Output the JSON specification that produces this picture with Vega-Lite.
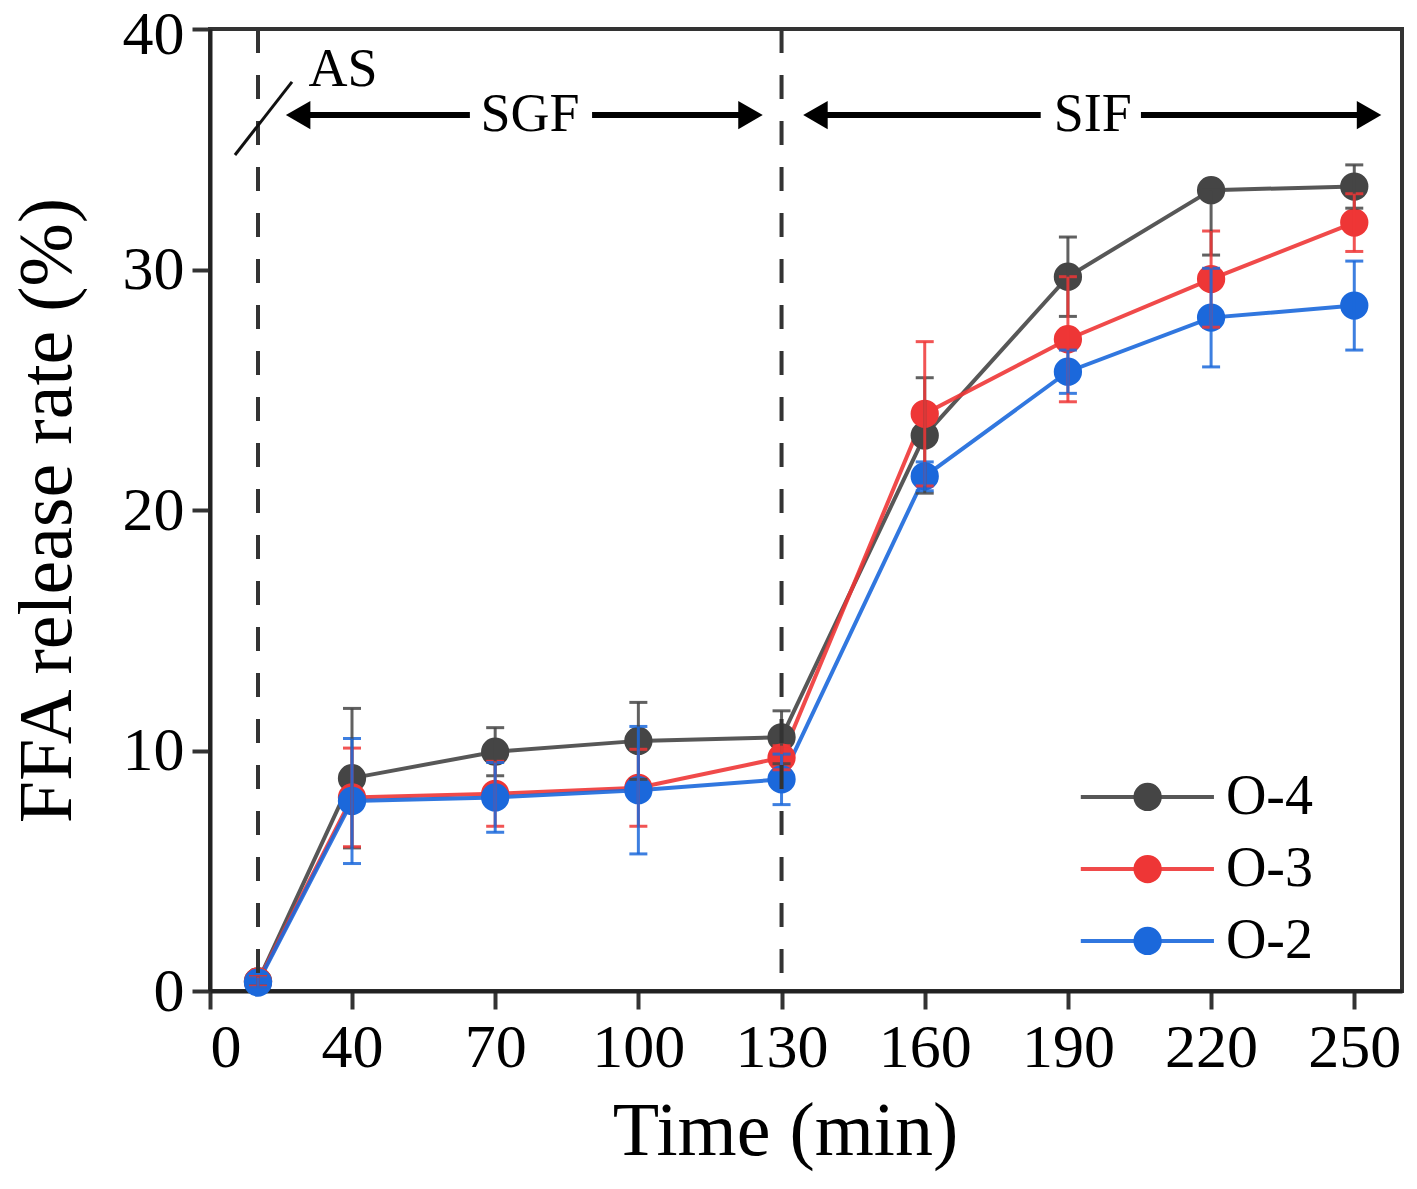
{
  "$schema": "https://vega.github.io/schema/vega-lite/v6.json",
  "width": 1192,
  "height": 962,
  "autosize": "none",
  "padding": {"left": 210, "top": 29, "right": 15, "bottom": 198},
  "background": "white",
  "config": {
    "font": "Liberation Serif",
    "view": {"stroke": "#333333", "strokeWidth": 4},
    "axis": {
      "grid": false,
      "domainColor": "#222222",
      "domainWidth": 4,
      "tickColor": "#333333",
      "tickWidth": 4,
      "tickSize": 18,
      "labelColor": "black",
      "labelFont": "Liberation Serif",
      "labelFontSize": 62,
      "labelPadding": 8,
      "titleFont": "Liberation Serif",
      "titleFontWeight": "normal",
      "titleColor": "black"
    }
  },
  "datasets": {
    "ffa": [
      {"series": "O-4", "time": 10, "mean": 0.4, "lo": 0.2, "hi": 0.6},
      {"series": "O-4", "time": 40, "mean": 8.85, "lo": 5.95, "hi": 11.75},
      {"series": "O-4", "time": 70, "mean": 9.95, "lo": 8.95, "hi": 10.95},
      {"series": "O-4", "time": 100, "mean": 10.4, "lo": 8.8, "hi": 12.0},
      {"series": "O-4", "time": 130, "mean": 10.55, "lo": 9.45, "hi": 11.65},
      {"series": "O-4", "time": 160, "mean": 23.1, "lo": 20.7, "hi": 25.5},
      {"series": "O-4", "time": 190, "mean": 29.7, "lo": 28.05, "hi": 31.35},
      {"series": "O-4", "time": 220, "mean": 33.3, "lo": 30.6, "hi": 33.3},
      {"series": "O-4", "time": 250, "mean": 33.45, "lo": 32.55, "hi": 34.35},
      {"series": "O-3", "time": 10, "mean": 0.4, "lo": 0.2, "hi": 0.6},
      {"series": "O-3", "time": 40, "mean": 8.05, "lo": 6.0, "hi": 10.1},
      {"series": "O-3", "time": 70, "mean": 8.2, "lo": 6.85, "hi": 9.55},
      {"series": "O-3", "time": 100, "mean": 8.45, "lo": 6.85, "hi": 10.05},
      {"series": "O-3", "time": 130, "mean": 9.7, "lo": 9.2, "hi": 10.2},
      {"series": "O-3", "time": 160, "mean": 24.0, "lo": 21.0, "hi": 27.0},
      {"series": "O-3", "time": 190, "mean": 27.1, "lo": 24.5, "hi": 29.7},
      {"series": "O-3", "time": 220, "mean": 29.6, "lo": 27.6, "hi": 31.6},
      {"series": "O-3", "time": 250, "mean": 31.95, "lo": 30.75, "hi": 33.15},
      {"series": "O-2", "time": 10, "mean": 0.35, "lo": 0.15, "hi": 0.55},
      {"series": "O-2", "time": 40, "mean": 7.9, "lo": 5.3, "hi": 10.5},
      {"series": "O-2", "time": 70, "mean": 8.05, "lo": 6.6, "hi": 9.5},
      {"series": "O-2", "time": 100, "mean": 8.35, "lo": 5.7, "hi": 11.0},
      {"series": "O-2", "time": 130, "mean": 8.8, "lo": 7.75, "hi": 9.85},
      {"series": "O-2", "time": 160, "mean": 21.4, "lo": 20.8, "hi": 22.0},
      {"series": "O-2", "time": 190, "mean": 25.75, "lo": 24.85, "hi": 26.65},
      {"series": "O-2", "time": 220, "mean": 28.0, "lo": 25.95, "hi": 30.05},
      {"series": "O-2", "time": 250, "mean": 28.5, "lo": 26.65, "hi": 30.35}
    ],
    "phases": [{"t": 10}, {"t": 130}],
    "arrows": [
      {"x": 22.8, "x2": 64.7, "y": 36.42},
      {"x": 90.3, "x2": 123.5, "y": 36.42},
      {"x": 137.1, "x2": 184.3, "y": 36.42},
      {"x": 205.3, "x2": 253.1, "y": 36.42}
    ],
    "heads": [
      {"x": 22.8, "y": 36.42, "shape": "triangle-left"},
      {"x": 123.5, "y": 36.42, "shape": "triangle-right"},
      {"x": 137.1, "y": 36.42, "shape": "triangle-left"},
      {"x": 253.1, "y": 36.42, "shape": "triangle-right"}
    ],
    "slash": [{"x": 5.2, "y": 34.76, "x2": 20.85, "y2": 37.8}],
    "labels": [
      {"x": 37.1, "y": 38.3, "text": "AS"},
      {"x": 77.3, "y": 36.42, "text": "SGF"},
      {"x": 195.2, "y": 36.42, "text": "SIF"}
    ],
    "legend": [
      {"series": "O-4", "x1": 192.7, "x2": 220.6, "xm": 206.7, "xt": 223.1, "y": 8.07},
      {"series": "O-3", "x1": 192.7, "x2": 220.6, "xm": 206.7, "xt": 223.1, "y": 5.07},
      {"series": "O-2", "x1": 192.7, "x2": 220.6, "xm": 206.7, "xt": 223.1, "y": 2.08}
    ]
  },
  "layer": [
    {
      "data": {"name": "ffa"},
      "mark": {"type": "line", "strokeWidth": 4, "opacity": 0.9},
      "encoding": {
        "x": {
          "field": "time",
          "type": "quantitative",
          "title": "Time (min)",
          "scale": {"domain": [0, 10, 40, 260], "range": [0, 48, 142, 1192], "nice": false},
          "axis": {
            "values": [0, 40, 70, 100, 130, 160, 190, 220, 250],
            "titleFontSize": 76,
            "titlePadding": 16,
            "titleX": 575,
            "labelAlign": {"condition": {"test": "datum.value == 0", "value": "left"}, "value": "center"}
          }
        },
        "y": {
          "field": "mean",
          "type": "quantitative",
          "title": "FFA release rate (%)",
          "scale": {"domain": [0, 40], "nice": false},
          "axis": {
            "values": [0, 10, 20, 30, 40],
            "titleFontSize": 76,
            "titlePadding": 36,
            "labelOffset": {"condition": {"test": "datum.value == 40", "value": 5}, "value": 0}
          }
        },
        "color": {
          "field": "series",
          "type": "nominal",
          "scale": {"domain": ["O-4", "O-3", "O-2"], "range": ["#454545", "#ee3636", "#1b68db"]},
          "legend": null
        }
      }
    },
    {
      "data": {"name": "ffa"},
      "mark": {"type": "point", "filled": true, "size": 800, "opacity": 1},
      "encoding": {
        "x": {"field": "time", "type": "quantitative", "title": "Time (min)"},
        "y": {"field": "mean", "type": "quantitative", "title": "FFA release rate (%)"},
        "color": {"field": "series", "type": "nominal", "legend": null}
      }
    },
    {
      "data": {"name": "ffa"},
      "mark": {"type": "errorbar", "thickness": 3, "ticks": {"size": 18, "thickness": 3}, "opacity": 0.85},
      "encoding": {
        "x": {"field": "time", "type": "quantitative", "title": "Time (min)"},
        "y": {"field": "lo", "type": "quantitative", "title": "FFA release rate (%)"},
        "y2": {"field": "hi"},
        "color": {"field": "series", "type": "nominal", "legend": null}
      }
    },
    {
      "data": {"name": "phases"},
      "mark": {"type": "rule", "color": "#333333", "strokeWidth": 4, "strokeDash": [24, 22]},
      "encoding": {
        "x": {"field": "t", "type": "quantitative", "title": "Time (min)"}
      }
    },
    {
      "data": {"name": "arrows"},
      "mark": {"type": "rule", "color": "black", "strokeWidth": 6},
      "encoding": {
        "x": {"field": "x", "type": "quantitative", "title": "Time (min)"},
        "x2": {"field": "x2"},
        "y": {"field": "y", "type": "quantitative", "title": "FFA release rate (%)"}
      }
    },
    {
      "data": {"name": "heads"},
      "mark": {"type": "point", "filled": true, "color": "black", "size": 800, "opacity": 1},
      "encoding": {
        "x": {"field": "x", "type": "quantitative", "title": "Time (min)"},
        "y": {"field": "y", "type": "quantitative", "title": "FFA release rate (%)"},
        "shape": {"field": "shape", "type": "nominal", "scale": null, "legend": null}
      }
    },
    {
      "data": {"name": "slash"},
      "mark": {"type": "rule", "color": "#111111", "strokeWidth": 3},
      "encoding": {
        "x": {"field": "x", "type": "quantitative", "title": "Time (min)"},
        "x2": {"field": "x2"},
        "y": {"field": "y", "type": "quantitative", "title": "FFA release rate (%)"},
        "y2": {"field": "y2"}
      }
    },
    {
      "data": {"name": "labels"},
      "mark": {"type": "text", "fontSize": 54, "font": "Liberation Serif", "color": "black", "align": "center", "baseline": "middle"},
      "encoding": {
        "x": {"field": "x", "type": "quantitative", "title": "Time (min)"},
        "y": {"field": "y", "type": "quantitative", "title": "FFA release rate (%)"},
        "text": {"field": "text"}
      }
    },
    {
      "data": {"name": "legend"},
      "mark": {"type": "rule", "strokeWidth": 4, "opacity": 0.9},
      "encoding": {
        "x": {"field": "x1", "type": "quantitative", "title": "Time (min)"},
        "x2": {"field": "x2"},
        "y": {"field": "y", "type": "quantitative", "title": "FFA release rate (%)"},
        "color": {"field": "series", "type": "nominal", "legend": null}
      }
    },
    {
      "data": {"name": "legend"},
      "mark": {"type": "point", "filled": true, "size": 800, "opacity": 1},
      "encoding": {
        "x": {"field": "xm", "type": "quantitative", "title": "Time (min)"},
        "y": {"field": "y", "type": "quantitative", "title": "FFA release rate (%)"},
        "color": {"field": "series", "type": "nominal", "legend": null}
      }
    },
    {
      "data": {"name": "legend"},
      "mark": {"type": "text", "fontSize": 56, "font": "Liberation Serif", "color": "black", "align": "left", "baseline": "middle"},
      "encoding": {
        "x": {"field": "xt", "type": "quantitative", "title": "Time (min)"},
        "y": {"field": "y", "type": "quantitative", "title": "FFA release rate (%)"},
        "text": {"field": "series"}
      }
    }
  ]
}
